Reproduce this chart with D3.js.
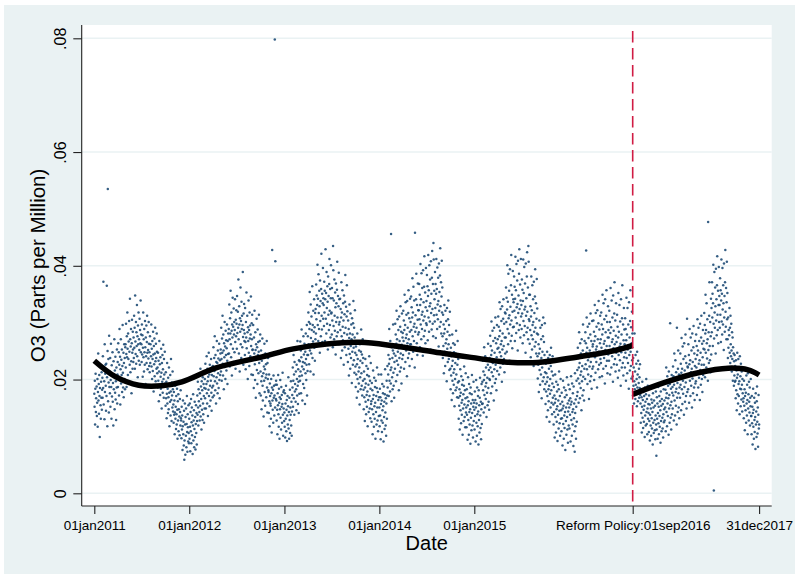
<!DOCTYPE html>
<html><head><meta charset="utf-8">
<script src="https://cdn.jsdelivr.net/npm/d3@7"></script>
<style>html,body{margin:0;padding:0;background:#fff;}svg{display:block;}</style>
</head><body>
<svg id="chart" width="795" height="574"></svg>
<script>
// Daily O3 readings, in tenths of ppb (value / 10000 = ppm)
const o3_2011 = [
175,152,198,121,184,210,143,167,229,188,136,159,201,117,178,246,163,192,140,208,171,99,185,224,155,131,196,168,213,147,182,
203,168,241,185,372,156,219,197,130,262,178,210,226,189,145,228,171,365,204,118,250,535,162,236,195,142,277,187,
214,176,238,152,199,263,187,131,225,170,208,248,161,194,119,232,183,205,271,148,216,177,240,165,197,129,221,186,253,158,209,
231,187,264,205,248,172,226,289,199,240,156,218,271,193,235,208,253,178,224,296,212,186,247,169,229,262,201,238,183,257,
262,221,298,245,187,276,239,318,254,208,281,236,267,195,303,249,226,342,271,213,258,289,232,176,264,305,247,219,284,253,231,
274,238,312,256,291,219,348,267,245,301,228,283,259,331,241,276,204,295,262,318,233,271,252,307,226,287,264,339,248,279,
262,231,297,244,278,205,256,318,239,271,214,289,248,226,303,257,192,274,241,295,229,266,312,247,218,283,252,237,301,263,224,
248,213,276,229,262,187,241,297,223,254,201,268,236,215,284,244,179,259,227,272,206,246,291,232,197,263,238,219,281,249,211,
221,186,247,198,233,162,214,268,191,227,173,239,205,184,254,212,149,229,196,243,177,218,261,201,168,236,209,188,249,193,
188,154,213,167,196,132,175,229,158,184,141,203,169,148,221,177,118,192,161,208,137,179,236,164,127,195,172,151,214,183,144,
156,124,178,138,163,104,142,189,131,152,113,171,139,121,184,147,96,162,128,174,109,148,196,135,102,166,143,119,181,132,
128,97,152,112,137,76,118,163,104,126,84,145,59,93,158,121,68,134,101,149,81,122,171,108,73,139,116,91,155,106,88];
const o3_2012 = [
131,96,158,117,74,143,109,166,88,125,151,102,137,69,119,174,93,128,146,81,113,161,99,134,77,122,155,106,141,86,127,
172,138,196,151,119,183,162,207,143,128,176,154,219,135,188,166,112,197,147,181,129,204,158,139,192,171,124,185,149,
201,167,228,184,149,213,192,241,176,158,219,197,136,205,182,247,171,209,153,226,189,214,163,198,236,177,145,208,186,222,169,
224,189,257,206,172,238,215,276,197,181,243,219,158,231,204,268,193,229,176,251,211,237,185,222,263,199,167,234,208,246,
253,214,291,236,198,272,247,312,228,207,279,251,183,264,239,301,222,258,201,286,243,269,216,255,297,233,192,268,245,281,226,
289,246,332,271,223,308,281,356,262,239,318,286,207,297,274,344,254,293,231,325,279,301,248,287,341,266,219,305,276,322,
298,254,347,282,231,319,291,376,271,246,329,297,214,308,284,362,262,303,238,337,289,312,257,296,389,275,226,316,287,333,268,
281,243,326,266,218,301,274,353,255,232,312,283,201,292,268,339,247,287,224,318,272,295,241,279,346,259,209,299,271,314,252,
253,208,296,237,185,274,246,321,227,199,283,252,168,262,238,307,217,257,192,288,243,266,211,249,314,229,176,268,241,279,
214,172,251,197,148,233,206,272,189,163,241,211,135,223,198,263,178,218,154,246,203,227,169,209,268,186,142,229,201,238,181,
178,141,209,162,118,193,171,158,154,131,201,176,107,186,428,163,147,182,124,207,168,189,137,172,798,151,408,191,166,198,
163,128,191,147,104,176,155,208,139,117,184,159,96,169,148,199,133,166,112,187,152,173,124,157,212,138,101,178,149,181,127];
const o3_2013 = [
142,117,176,98,158,131,189,109,147,164,92,137,171,121,153,204,114,143,96,168,129,182,106,151,138,197,119,161,101,144,173,
186,221,152,198,243,167,209,138,231,179,192,257,161,214,183,146,226,201,172,268,189,157,218,196,141,234,175,206,
232,198,267,214,251,176,239,288,207,223,163,258,231,192,276,218,244,185,263,229,157,249,211,281,236,199,226,296,172,243,215,
276,243,318,262,301,227,289,354,251,298,214,332,273,246,311,287,259,364,238,296,267,321,209,284,341,256,292,233,317,271,
324,281,367,306,348,259,331,402,296,342,268,385,317,289,356,329,247,374,303,338,276,359,421,312,288,351,266,334,396,307,343,
331,294,372,318,356,268,341,429,307,352,281,389,326,298,364,337,253,381,314,347,287,368,412,321,296,359,274,343,401,316,
318,279,361,304,343,257,435,392,294,339,271,376,312,286,353,327,244,369,301,334,276,358,407,309,283,347,262,329,388,297,341,
301,262,342,287,324,238,309,371,276,318,251,357,293,269,334,304,226,348,282,315,257,337,384,291,264,328,243,311,366,279,320,
268,231,304,254,289,207,273,332,245,281,219,316,259,238,297,271,194,308,249,279,226,299,338,256,234,291,212,274,322,247,
223,187,258,209,243,168,227,281,201,236,179,266,214,193,251,221,156,262,204,233,183,249,288,211,189,244,172,229,271,198,238,
182,148,214,169,201,127,186,236,161,193,139,224,173,152,208,179,118,219,164,191,143,206,241,171,149,198,132,184,229,157,
162,126,194,148,181,104,166,216,139,173,117,203,153,131,187,159,96,198,143,171,121,185,221,151,128,178,109,164,209,136,169];
const o3_2014 = [
151,118,184,137,169,95,157,209,128,163,108,192,146,124,176,153,91,188,134,161,113,174,218,142,119,167,101,158,198,131,172,
224,186,261,209,243,171,228,289,198,236,179,268,217,193,456,221,162,257,204,238,183,251,297,212,189,246,168,231,
257,219,298,242,279,197,263,321,233,271,208,306,249,226,287,255,181,311,238,268,214,293,329,246,221,284,193,261,316,236,274,
282,243,321,268,304,219,287,349,259,296,231,336,273,251,314,279,206,338,264,291,238,317,357,271,246,308,224,284,342,262,
301,262,346,287,327,236,309,378,276,318,249,363,293,268,339,298,221,458,284,313,256,341,386,291,264,331,243,305,369,279,322,
322,283,368,306,349,257,331,403,297,341,271,387,314,289,361,319,242,392,304,336,276,363,417,311,286,353,264,327,396,299,
338,296,384,321,364,269,347,419,309,357,284,401,329,302,376,334,253,408,317,351,288,379,426,324,298,368,276,440,411,313,356,
341,302,389,326,368,273,351,412,314,359,289,397,332,306,379,338,258,404,321,354,293,383,431,329,301,371,281,346,409,318,362,
276,238,314,259,297,211,281,331,249,289,224,321,264,243,303,271,197,326,254,284,231,306,339,262,236,296,217,278,319,247,
219,183,256,207,241,164,224,279,198,233,176,264,212,191,248,218,153,261,201,229,181,246,286,209,186,241,169,226,268,195,236,
168,131,197,154,183,112,171,218,146,177,123,206,159,138,191,164,103,199,149,174,127,189,223,156,134,181,116,167,211,142,
151,116,183,138,169,94,155,204,129,162,103,192,143,121,176,148,87,186,133,158,111,174,208,141,119,164,98,152,196,127,159];
const o3_2015 = [
147,112,179,136,164,91,151,199,124,158,101,186,139,118,171,144,86,181,129,155,107,168,203,137,115,161,95,148,192,122,157,
196,158,233,181,214,142,199,257,173,208,151,241,188,166,221,194,134,236,177,203,155,226,263,185,161,217,147,201,
238,199,277,221,259,176,243,302,213,251,188,286,229,206,268,235,163,291,218,247,194,273,309,226,201,264,181,239,296,215,254,
271,232,311,256,293,209,276,336,248,286,221,324,262,241,303,268,196,329,253,281,228,307,341,259,236,298,213,274,318,246,
316,274,362,301,344,249,323,401,289,337,262,386,308,281,356,313,233,394,297,328,268,366,419,304,277,349,255,319,391,292,341,
336,293,381,321,363,268,342,416,309,357,282,403,327,299,374,333,251,409,317,348,287,386,429,324,296,367,274,339,412,311,
331,289,376,316,358,264,338,411,303,352,278,398,323,294,369,328,247,404,312,343,283,381,424,319,291,362,271,435,407,306,349,
303,263,349,287,329,239,311,381,278,322,253,366,296,271,341,301,224,372,284,317,258,346,394,291,266,334,246,307,377,281,325,
241,202,279,226,262,178,246,304,217,254,191,291,233,209,271,238,167,296,221,249,197,276,309,229,204,266,183,243,299,213,
192,157,228,179,211,134,196,249,171,204,146,238,183,162,219,189,126,243,175,201,151,224,256,181,159,214,139,193,241,168,207,
156,121,187,143,172,98,159,209,134,166,107,196,148,126,179,153,92,191,138,163,114,183,214,145,123,171,101,157,201,131,
146,109,177,132,161,84,149,198,122,154,96,186,137,115,169,143,76,181,127,151,103,173,204,134,112,158,89,144,191,119,163];
const o3_2016 = [
151,114,183,138,167,91,156,206,129,161,101,193,143,121,176,148,83,188,132,158,109,73,211,141,118,165,96,152,198,126,171,
217,178,256,202,238,159,221,283,193,229,167,264,208,185,246,214,146,271,197,224,172,251,297,205,181,241,163,219,268,
242,201,283,227,264,427,247,309,218,256,192,293,234,209,273,239,166,298,223,251,197,279,316,231,206,268,184,244,303,219,258,
262,223,304,247,284,199,268,331,239,276,212,317,253,231,293,258,186,322,243,271,218,299,338,249,226,288,204,264,312,236,
271,229,318,256,297,206,279,349,247,289,219,334,263,238,306,268,193,341,252,283,224,312,357,259,233,301,211,274,329,244,287,
274,233,321,259,301,209,282,361,249,292,221,339,266,241,309,271,196,348,255,286,227,316,371,262,236,304,214,277,334,247,
266,226,314,251,293,203,274,352,243,284,216,331,258,234,302,263,189,341,248,279,221,308,366,255,229,297,207,269,326,239,288,
262,221,308,247,289,198,269,344,238,279,211,326,253,229,297,258,184,336,243,274,216,303,357,249,224,292,202,264,319,234,281,
206,172,238,189,221,158,197,281,183,214,166,243,191,175,228,201,153,249,186,209,162,233,178,194,219,168,204,185,227,173,
158,124,183,141,169,107,152,196,133,164,115,178,147,126,171,154,99,186,137,161,119,174,201,143,122,166,104,149,189,131,157,
141,108,172,127,156,93,138,184,119,149,101,165,132,114,159,143,86,176,124,151,106,163,189,129,111,154,95,137,179,121,
66,112,169,131,158,96,141,187,123,152,104,171,136,117,162,146,89,179,127,154,109,166,193,133,114,157,98,139,183,125,148];
const o3_2017 = [
163,128,197,151,182,109,168,221,143,176,118,206,158,136,189,167,103,214,149,173,124,192,299,155,133,184,112,161,208,139,177,
187,149,223,172,206,128,191,246,163,198,137,234,178,154,213,184,121,291,168,194,143,219,251,176,151,209,132,186,
207,168,246,191,228,146,212,273,183,219,157,258,198,175,236,204,138,264,187,216,161,241,279,195,171,229,149,208,307,178,223,
221,183,262,206,243,159,227,289,198,234,171,274,213,189,251,219,151,281,202,231,176,257,294,209,186,246,164,224,268,193,
236,197,279,221,259,173,243,306,212,251,186,291,228,203,268,234,164,298,217,247,191,274,312,226,201,263,178,239,287,208,254,
268,226,317,253,296,204,281,349,247,287,221,334,264,237,306,271,198,477,252,283,229,312,371,259,234,301,213,276,342,244,
326,283,371,309,351,259,334,402,298,5,272,389,318,291,362,329,246,395,304,341,278,366,417,314,287,356,264,331,398,301,347,
331,291,378,314,357,266,339,411,302,351,279,396,323,297,366,334,252,404,309,347,284,371,428,319,293,361,271,336,407,306,352,
271,238,309,256,287,219,278,326,247,291,229,312,262,241,298,251,214,283,236,274,198,257,221,246,189,232,207,243,196,224,
198,167,234,181,216,146,203,247,174,209,158,236,192,171,222,197,139,241,184,206,153,228,183,165,214,191,144,201,176,219,161,
167,132,198,154,183,111,171,219,146,177,124,207,158,137,191,164,104,211,149,174,128,196,161,142,186,119,168,153,201,136,
136,104,171,123,152,86,141,184,117,147,96,168,129,108,159,134,78,176,121,144,99,162,188,126,105,151,82,138,173,114,121];

// Fitted curves, pre- and post-reform
const fitPreDates  = ["2011-01-01","2011-03-23","2011-06-21","2011-09-18","2011-12-04","2012-04-10","2012-10-07","2013-02-04","2013-06-12","2013-10-18","2014-02-24","2014-08-22","2014-12-20","2015-04-28","2015-09-03","2016-01-09","2016-06-25","2016-09-01"];
const fitPreValues = [0.0233,0.0205,0.0190,0.0189,0.0196,0.0220,0.0240,0.0254,0.02625,0.02655,0.02595,0.0247,0.0239,0.0231,0.0230,0.0238,0.0251,0.0260];
const fitPostDates  = ["2016-09-01","2017-01-03","2017-05-11","2017-09-03","2017-11-19","2017-12-31"];
const fitPostValues = [0.0174,0.0195,0.0212,0.0220,0.0217,0.0208];

const reformDate = "2016-09-01";
const xTickDates  = ["2011-01-01","2012-01-01","2013-01-01","2014-01-01","2015-01-01","2016-09-01","2017-12-31"];
const xTickLabels = ["01jan2011","01jan2012","01jan2013","01jan2014","01jan2015","Reform Policy:01sep2016","31dec2017"];
const yTicks      = [0, 0.02, 0.04, 0.06, 0.08];
const yTickLabels = ["0", ".02", ".04", ".06", ".08"];
const yearStarts  = [2011, 2012, 2013, 2014, 2015, 2016, 2017];

const yearArrays = [o3_2011, o3_2012, o3_2013, o3_2014, o3_2015, o3_2016, o3_2017];
const parse = d3.utcParse("%Y-%m-%d");
const points = [];
yearArrays.forEach((arr, k) => arr.forEach((v, i) => {
  points.push({date: new Date(Date.UTC(yearStarts[k], 0, 1 + i)), value: v / 10000});
}));

const svg = d3.select("#chart");
const font = "'Liberation Sans', Arial, Helvetica, sans-serif";
const plot = {left: 81.7, right: 771.7, top: 25, bottom: 506};

const x = d3.scaleUtc().domain([parse("2011-01-01"), parse("2017-12-31")]).range([94.3, 759.1]);
const y = d3.scaleLinear().domain([0, 0.08]).range([493.3, 38.3]);

// outer background
svg.append("rect").attr("x", 4).attr("y", 5).attr("width", 791).attr("height", 569).attr("fill", "#eaf2f3");
svg.append("rect").attr("x", plot.left).attr("y", plot.top)
  .attr("width", plot.right - plot.left).attr("height", plot.bottom - plot.top).attr("fill", "#fff");

// gridlines
svg.append("g").selectAll("line").data(yTicks).join("line")
  .attr("x1", plot.left).attr("x2", plot.right)
  .attr("y1", d => y(d)).attr("y2", d => y(d))
  .attr("stroke", "#eaf2f3").attr("stroke-width", 1.4);

// scatter
svg.append("g").selectAll("circle").data(points).join("circle")
  .attr("cx", d => x(d.date)).attr("cy", d => y(d.value)).attr("r", 1.25)
  .attr("fill", "#1f4c77").attr("fill-opacity", 0.9);

// fit lines
const line = d3.line().x(d => x(d[0])).y(d => y(d[1])).curve(d3.curveCatmullRom.alpha(0.5));
const pre = fitPreDates.map((d, i) => [parse(d), fitPreValues[i]]);
const post = fitPostDates.map((d, i) => [parse(d), fitPostValues[i]]);
[pre, post].forEach(seg => svg.append("path").attr("d", line(seg))
  .attr("fill", "none").attr("stroke", "#000").attr("stroke-width", 5.5).attr("stroke-linecap", "butt"));

// reform line
svg.append("line").attr("x1", x(parse(reformDate))).attr("x2", x(parse(reformDate)))
  .attr("y1", 31).attr("y2", plot.bottom)
  .attr("stroke", "#d01c44").attr("stroke-width", 1.6).attr("stroke-dasharray", "11.5,5.5");

// axes
svg.append("line").attr("x1", plot.left).attr("x2", plot.left).attr("y1", plot.top).attr("y2", plot.bottom)
  .attr("stroke", "#222").attr("stroke-width", 1.1);
svg.append("line").attr("x1", plot.left).attr("x2", plot.right).attr("y1", plot.bottom).attr("y2", plot.bottom)
  .attr("stroke", "#222").attr("stroke-width", 1.1);

const xAxis = svg.append("g").attr("transform", `translate(0,${plot.bottom})`)
  .call(d3.axisBottom(x).tickValues(xTickDates.map(parse)).tickFormat((d, i) => xTickLabels[i]).tickSize(8).tickSizeOuter(0));
xAxis.select(".domain").remove();
xAxis.selectAll(".tick line").attr("stroke", "#222").attr("stroke-width", 1.1);
xAxis.selectAll(".tick text").attr("y", 23.5).attr("dy", 0)
  .attr("font-family", font).attr("font-size", 13.5).attr("fill", "#000");

const yAxis = svg.append("g").attr("transform", `translate(${plot.left},0)`)
  .call(d3.axisLeft(y).tickValues(yTicks).tickFormat((d, i) => yTickLabels[i]).tickSize(8.4).tickSizeOuter(0));
yAxis.select(".domain").remove();
yAxis.selectAll(".tick line").attr("stroke", "#222").attr("stroke-width", 1.1);
yAxis.selectAll(".tick text").attr("x", null).attr("dy", 0)
  .attr("transform", "translate(-15.7,0) rotate(-90)").attr("text-anchor", "middle")
  .attr("font-family", font).attr("font-size", 16).attr("fill", "#000");

// titles
svg.append("text").attr("x", (plot.left + plot.right) / 2).attr("y", 550)
  .attr("text-anchor", "middle").attr("font-family", font).attr("font-size", 20).attr("fill", "#000").text("Date");
svg.append("text").attr("transform", `translate(45,${(plot.top + plot.bottom) / 2}) rotate(-90)`)
  .attr("text-anchor", "middle").attr("font-family", font).attr("font-size", 20.5).attr("fill", "#000")
  .text("O3 (Parts per Million)");
</script>
</body></html>
